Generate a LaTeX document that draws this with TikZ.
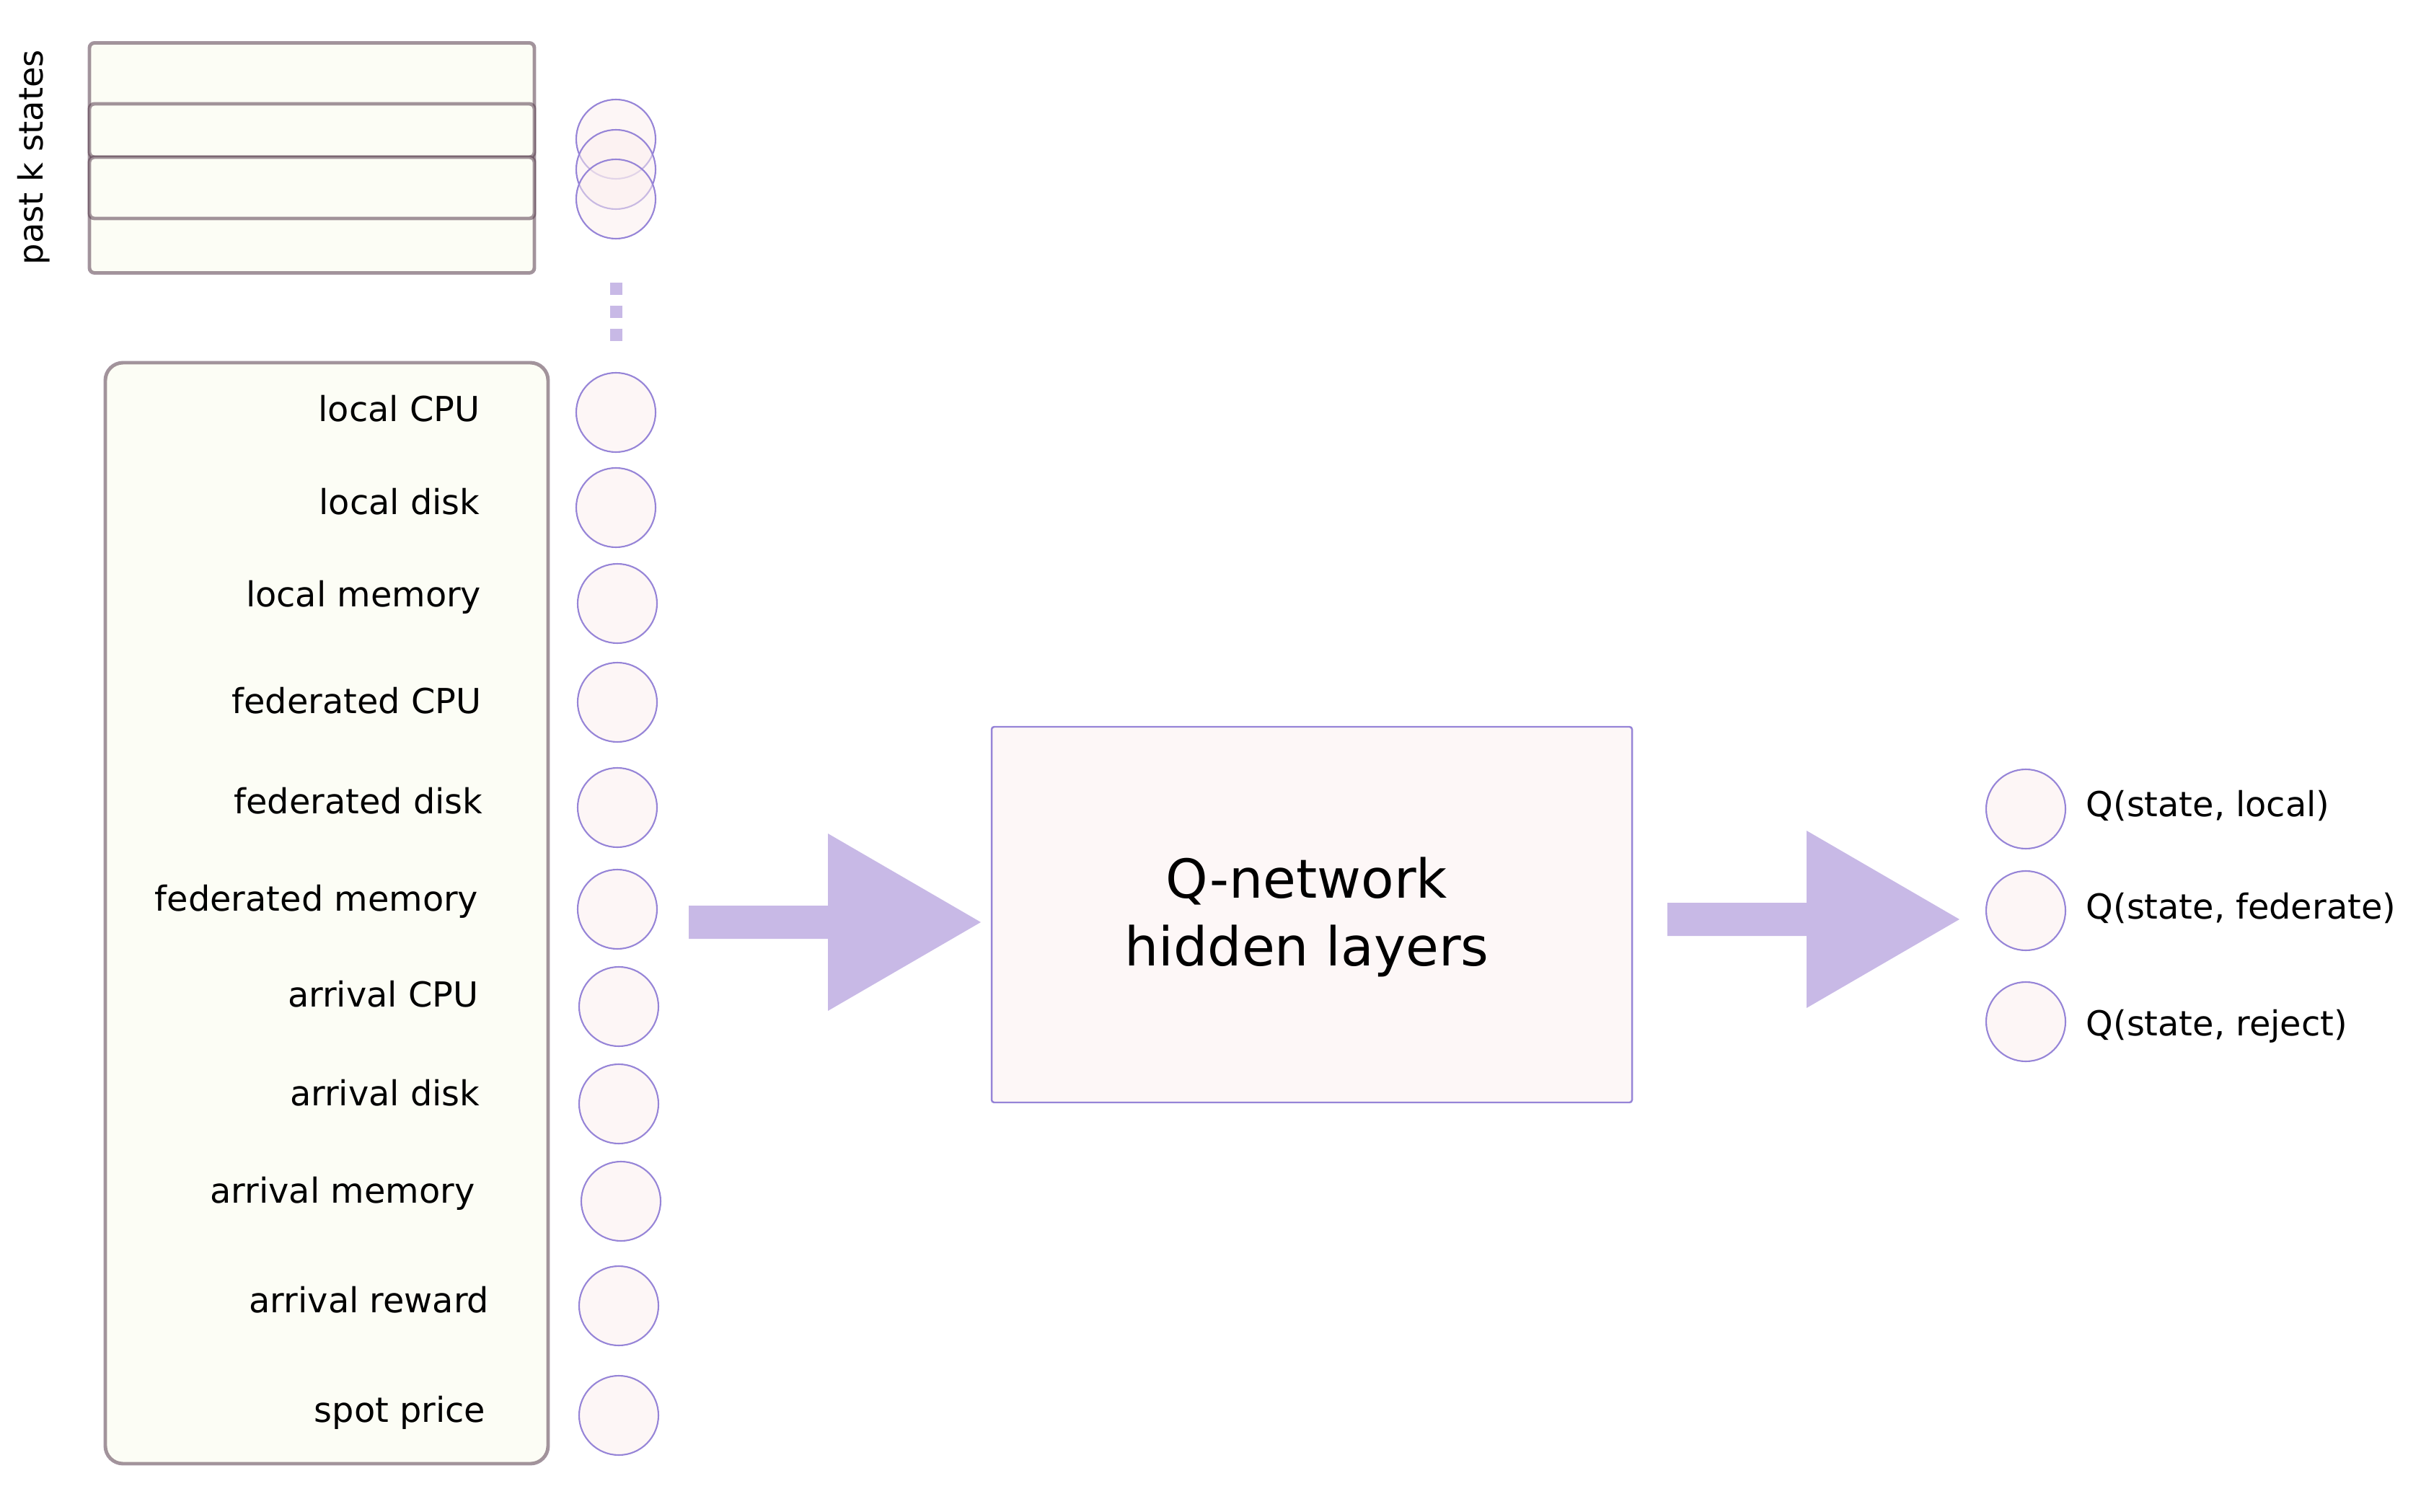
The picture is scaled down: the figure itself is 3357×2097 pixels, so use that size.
\documentclass[tikz,border=0pt]{standalone}
\usepackage{fontspec}
\setmainfont{DejaVu Sans}
\usepackage{tikz}
\usetikzlibrary{calc}

\definecolor{ivory}{RGB}{252,253,245}
\definecolor{stackline}{RGB}{88,60,78}
\definecolor{unitfill}{RGB}{251,238,238}
\definecolor{unitline}{RGB}{150,132,215}
\definecolor{qfill}{RGB}{253,247,247}
\definecolor{flowfill}{RGB}{200,185,230}

% fat block arrow from #1 (tail) to #2 (tip)
\newcommand{\fatarrow}[2]{%
  \fill[flowfill] ($(#1)+(0,-23)$) -- ($(#2)+(-212,-23)$) -- ($(#2)+(-212,-123)$) -- (#2)
    -- ($(#2)+(-212,123)$) -- ($(#2)+(-212,23)$) -- ($(#1)+(0,23)$) -- cycle;}

\begin{document}
\begin{tikzpicture}[
    x=0.1mm, y=-0.1mm,
    stackbox/.style={rectangle, draw=stackline, draw opacity=0.55, fill=ivory, line width=1.4pt, rounded corners=2pt, inner sep=0pt, minimum width=61.7mm},
    featbox/.style={rectangle, draw=stackline, draw opacity=0.55, fill=ivory, line width=1.4pt, rounded corners=7pt, inner sep=0pt},
    unit/.style={circle, draw=unitline, line width=0.6pt, fill=unitfill, fill opacity=0.5, inner sep=0pt, minimum size=11mm},
    lbl/.style={font=\fontsize{13.6}{16}\selectfont, inner sep=0pt},
    qbox/.style={rectangle, draw=unitline, line width=0.7pt, fill=qfill, rounded corners=1pt, align=center, inner sep=0pt, minimum width=88.8mm, minimum height=52.1mm, font=\fontsize{21.2}{26.8}\selectfont},
    dotline/.style={draw=flowfill, line width=1.7mm, dash pattern=on 1.7mm off 1.5mm}
]
    \useasboundingbox (0,0) rectangle (3357,2097);

    % Past states
    \node[stackbox, minimum height=31.9mm] (past) at (432.5,219) {};
    \node[stackbox, minimum height=7.4mm] (pastA) at (432.5,181) {};
    \node[stackbox, minimum height=8.5mm] (pastB) at (432.5,260.5) {};
    \node[rotate=90, font=\fontsize{13.2}{15}\selectfont, inner sep=0pt] (pastlbl) at (47,218) {past k states};

    \node[unit] (pk1) at (854,193) {};
    \node[unit] (pk2) at (854,235) {};
    \node[unit] (pk3) at (854,276) {};

    \coordinate (dotsTop) at (854,392);
    \coordinate (dotsBot) at (854,473);
    \draw[dotline] (dotsTop) -- (dotsBot);

    % Current state features
    \node[featbox, minimum width=61.4mm, minimum height=152.7mm] (feat) at (453,1266.5) {};

    \node[lbl, anchor=base east] (lcpu) at (666,584) {local CPU};
    \node[lbl, anchor=base east] (ldisk) at (666,713) {local disk};
    \node[lbl, anchor=base east] (lmem) at (668,841) {local memory};
    \node[lbl, anchor=base east] (fcpu) at (668,989) {federated CPU};
    \node[lbl, anchor=base east] (fdisk) at (670,1128) {federated disk};
    \node[lbl, anchor=base east] (fmem) at (664,1263) {federated memory};
    \node[lbl, anchor=base east] (acpu) at (664,1396) {arrival CPU};
    \node[lbl, anchor=base east] (adisk) at (666,1533) {arrival disk};
    \node[lbl, anchor=base east] (amem) at (659,1668) {arrival memory};
    \node[lbl, anchor=base east] (arew) at (679,1820) {arrival reward};
    \node[lbl, anchor=base east] (spot) at (674,1972) {spot price};

    \node[unit] (u1) at (854,572) {};
    \node[unit] (u2) at (854,704) {};
    \node[unit] (u3) at (856,837) {};
    \node[unit] (u4) at (856,974) {};
    \node[unit] (u5) at (856,1120) {};
    \node[unit] (u6) at (856,1261) {};
    \node[unit] (u7) at (858,1396) {};
    \node[unit] (u8) at (858,1531) {};
    \node[unit] (u9) at (861,1666) {};
    \node[unit] (u10) at (858,1811) {};
    \node[unit] (u11) at (858,1963) {};

    % Q-network
    \node[qbox] (qnet) at (1819,1268.5) {};
    \node[align=center, inner sep=0pt, font=\fontsize{21.2}{26.8}\selectfont] (qtext) at (1812,1272) {Q-network\\hidden layers};

    % Outputs
    \node[unit] (o1) at (2809,1122) {};
    \node[unit] (o2) at (2809,1263) {};
    \node[unit] (o3) at (2809,1417) {};
    \node[lbl, anchor=base west] (qlocal) at (2892,1132) {Q(state, local)};
    \node[lbl, anchor=base west] (qfed) at (2892,1274) {Q(state, federate)};
    \node[lbl, anchor=base west] (qrej) at (2892,1436) {Q(state, reject)};

    % Block arrows
    \coordinate (inTail) at (955,1279);
    \coordinate (inTip) at (1360,1279);
    \coordinate (outTail) at (2312,1275);
    \coordinate (outTip) at (2717,1275);
    \fatarrow{inTail}{inTip}
    \fatarrow{outTail}{outTip}
\end{tikzpicture}
\end{document}
